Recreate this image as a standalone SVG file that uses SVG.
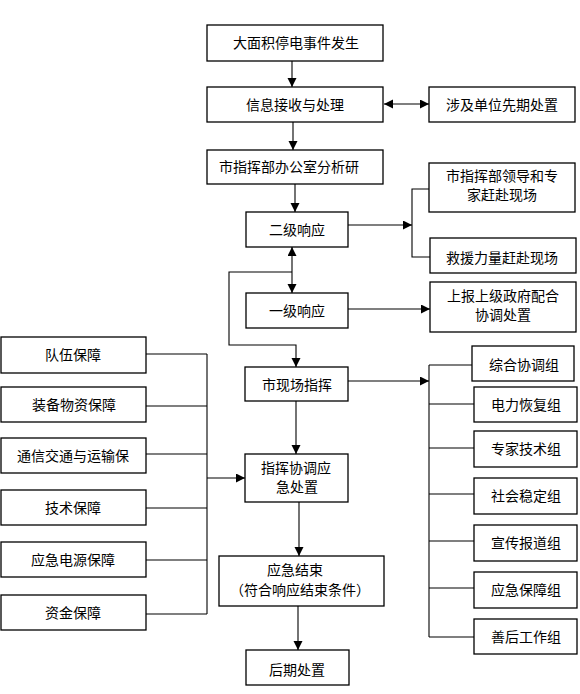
<svg xmlns="http://www.w3.org/2000/svg" width="580" height="694" viewBox="0 0 580 694">
<defs>
<marker id="ah" markerUnits="userSpaceOnUse" markerWidth="10" markerHeight="10" refX="9" refY="4.5" orient="auto-start-reverse">
<path d="M0,0 L9,4.5 L0,9 z" fill="#000"/>
</marker>
</defs>
<style>
rect{fill:#fff;stroke:#000;stroke-width:1.3}
text{font-family:"Noto Sans CJK SC","Liberation Sans",sans-serif;font-size:14px;fill:#000;text-anchor:middle}
.c{fill:none;stroke:#000;stroke-width:1.1}
.a{marker-end:url(#ah)}
.b{marker-start:url(#ah);marker-end:url(#ah)}
</style>
<rect width="580" height="694" style="fill:#fff;stroke:none"/>
<g id="connectors">
<line class="c a" x1="292" y1="61" x2="292" y2="87"/>
<line class="c b" x1="384" y1="104" x2="429" y2="104"/>
<line class="c a" x1="293" y1="122" x2="293" y2="150"/>
<line class="c a" x1="295" y1="184" x2="295" y2="212"/>
<line class="c a" x1="348" y1="225" x2="412" y2="225"/>
<polyline class="c" points="429,189 412,189 412,257 430,257"/>
<line class="c b" x1="292" y1="247" x2="292" y2="293"/>
<polyline class="c a" points="292,272 229,272 229,345 296,345 296,367"/>
<line class="c a" x1="348" y1="309" x2="430" y2="309"/>
<line class="c a" x1="348" y1="381" x2="429" y2="381"/>
<line class="c" x1="429" y1="365" x2="429" y2="637"/>
<line class="c" x1="429" y1="365" x2="472" y2="365"/>
<line class="c" x1="429" y1="404" x2="474" y2="404"/>
<line class="c" x1="429" y1="448" x2="474" y2="448"/>
<line class="c" x1="429" y1="494" x2="474" y2="494"/>
<line class="c" x1="429" y1="541" x2="474" y2="541"/>
<line class="c" x1="429" y1="588" x2="474" y2="588"/>
<line class="c" x1="429" y1="637" x2="474" y2="637"/>
<line class="c a" x1="296" y1="401" x2="296" y2="454"/>
<line class="c" x1="207" y1="354" x2="207" y2="614"/>
<line class="c" x1="146" y1="354" x2="207" y2="354"/>
<line class="c" x1="146" y1="406" x2="207" y2="406"/>
<line class="c" x1="146" y1="454" x2="207" y2="454"/>
<line class="c" x1="146" y1="508" x2="207" y2="508"/>
<line class="c" x1="146" y1="560" x2="207" y2="560"/>
<line class="c" x1="146" y1="614" x2="207" y2="614"/>
<line class="c a" x1="207" y1="478" x2="245" y2="478"/>
<line class="c a" x1="299" y1="502" x2="299" y2="556"/>
<line class="c a" x1="298" y1="606" x2="298" y2="650"/>
</g>
<g id="n1"><rect x="207" y="25" width="176" height="36"/><text x="296" y="48">大面积停电事件发生</text></g>
<g id="n2"><rect x="207" y="87" width="176" height="35"/><text x="295" y="110">信息接收与处理</text></g>
<g id="n3"><rect x="429" y="87" width="146" height="35"/><text x="502" y="110">涉及单位先期处置</text></g>
<g id="n4"><rect x="207" y="150" width="176" height="34"/><text x="289" y="172">市指挥部办公室分析研</text></g>
<g id="n5"><rect x="246" y="212" width="102" height="35"/><text x="297" y="235">二级响应</text></g>
<g id="n6"><rect x="429" y="163" width="146" height="49"/><text x="502" y="181">市指挥部领导和专</text><text x="502" y="200">家赶赴现场</text></g>
<g id="n7"><rect x="430" y="238" width="146" height="35"/><text x="502" y="263">救援力量赶赴现场</text></g>
<g id="n8"><rect x="246" y="293" width="102" height="35"/><text x="297" y="316">一级响应</text></g>
<g id="n9"><rect x="430" y="282" width="146" height="50"/><text x="503" y="301">上报上级政府配合</text><text x="503" y="320">协调处置</text></g>
<g id="n10"><rect x="245" y="367" width="103" height="34"/><text x="297" y="390">市现场指挥</text></g>
<g id="n11"><rect x="245" y="454" width="103" height="48"/><text x="296" y="473">指挥协调应</text><text x="297" y="492">急处置</text></g>
<g id="n12"><rect x="219" y="556" width="165" height="50"/><text x="295" y="575">应急结束</text><text x="300" y="595">（符合响应结束条件）</text></g>
<g id="n13"><rect x="246" y="650" width="103" height="35"/><text x="297" y="675">后期处置</text></g>
<g id="g1"><rect x="472" y="346" width="102" height="35"/><text x="524" y="370">综合协调组</text></g>
<g id="g2"><rect x="474" y="387" width="103" height="35"/><text x="526" y="410">电力恢复组</text></g>
<g id="g3"><rect x="474" y="431" width="103" height="36"/><text x="526" y="454">专家技术组</text></g>
<g id="g4"><rect x="474" y="478" width="103" height="36"/><text x="526" y="501">社会稳定组</text></g>
<g id="g5"><rect x="474" y="525" width="103" height="36"/><text x="526" y="548">宣传报道组</text></g>
<g id="g6"><rect x="474" y="572" width="103" height="36"/><text x="526" y="595">应急保障组</text></g>
<g id="g7"><rect x="474" y="619" width="103" height="35"/><text x="526" y="642">善后工作组</text></g>
<g id="s1"><rect x="1" y="337" width="145" height="36"/><text x="73" y="360">队伍保障</text></g>
<g id="s2"><rect x="1" y="387" width="145" height="35"/><text x="74" y="410">装备物资保障</text></g>
<g id="s3"><rect x="1" y="438" width="145" height="35"/><text x="73" y="461">通信交通与运输保</text></g>
<g id="s4"><rect x="1" y="490" width="145" height="35"/><text x="73" y="513">技术保障</text></g>
<g id="s5"><rect x="1" y="542" width="145" height="35"/><text x="73" y="565">应急电源保障</text></g>
<g id="s6"><rect x="1" y="595" width="145" height="35"/><text x="73" y="618">资金保障</text></g>
</svg>
